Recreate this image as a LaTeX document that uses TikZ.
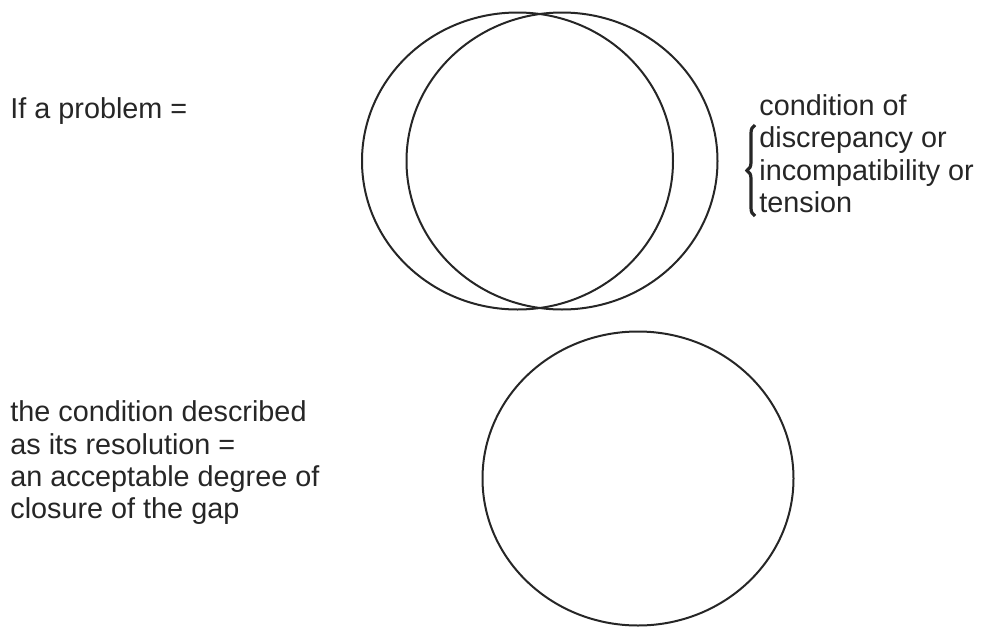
\documentclass[tikz,border=0pt]{standalone}
\usepackage{fontspec}
\setmainfont{Liberation Sans}
\usetikzlibrary{decorations.pathreplacing}
\tikzset{
  gapring/.style={draw=black!85, line width=1pt},
  gaptxt/.style={font=\fontsize{14.4pt}{16.2pt}\selectfont, text=black!85,
                 inner sep=0pt, align=left},
  gapbrace/.style={draw=black!85, line width=1.6pt, decorate,
                   decoration={brace, amplitude=4pt}},
}

\begin{document}
\begin{tikzpicture}[x=0.5pt, y=-0.5pt]
  \useasboundingbox (0,0) rectangle (986,627);
  % problem: two overlapping rings
  \draw[gapring] (517.5,161) ellipse [x radius=155.5, y radius=148.5];
  \draw[gapring] (562,161) ellipse [x radius=155.5, y radius=148.5];
  % resolution: one ring
  \draw[gapring] (638,478.5) ellipse [x radius=155.5, y radius=147];
  % texts
  \node[gaptxt, anchor=base west] (prob) at (10,118) {If a problem =};
  \node[gaptxt, anchor=north west] (cond) at (759,94)
    {condition of\\discrepancy or\\incompatibility or\\tension};
  \node[gaptxt, anchor=north west] (reso) at (10,400.5)
    {the condition described\\as its resolution =\\an acceptable degree of\\closure of the gap};
  \coordinate (brbot) at (755,216);
  \coordinate (brtop) at (755,125);
  \draw[gapbrace] (brbot) -- (brtop);
\end{tikzpicture}
\end{document}
